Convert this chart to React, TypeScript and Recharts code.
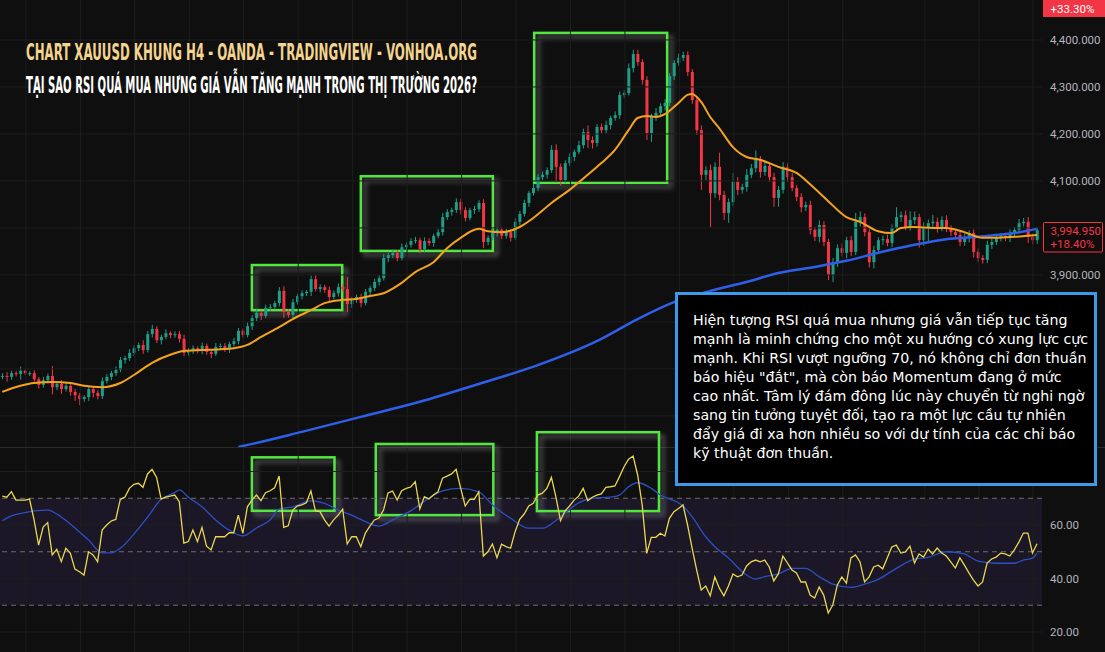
import React from 'react';
import { ComposedChart, Bar, Line, XAxis, YAxis, CartesianGrid, ReferenceLine, ReferenceArea } from 'recharts';

// ---------- DATA ----------
const firstOpen = 3683;
const closes = [
  3685, 3683, 3691, 3689, 3696, 3691, 3691, 3678, 3666, 3676,
  3685, 3661, 3668, 3657, 3664, 3651, 3644, 3636, 3640, 3657,
  3649, 3642, 3674, 3683, 3691, 3698, 3719, 3723, 3734, 3744,
  3751, 3740, 3774, 3785, 3761, 3768, 3776, 3772, 3774, 3764,
  3734, 3740, 3744, 3738, 3749, 3736, 3732, 3747, 3749, 3742,
  3753, 3759, 3781, 3772, 3791, 3808, 3819, 3813, 3830, 3832,
  3840, 3866, 3821, 3815, 3842, 3855, 3861, 3864, 3891, 3870,
  3874, 3868, 3853, 3861, 3874, 3870, 3838, 3847, 3853, 3840,
  3864, 3872, 3885, 3893, 3936, 3942, 3947, 3936, 3959, 3964,
  3972, 3974, 3955, 3972, 3968, 3983, 3991, 4023, 4034, 4038,
  4055, 4038, 4021, 4038, 4040, 4053, 3970, 3979, 3991, 3996,
  3983, 3991, 3979, 4013, 4030, 4053, 4074, 4085, 4108, 4113,
  4123, 4166, 4130, 4102, 4138, 4151, 4162, 4176, 4204, 4187,
  4181, 4215, 4208, 4219, 4234, 4240, 4283, 4287, 4340, 4370,
  4353, 4315, 4202, 4236, 4245, 4259, 4266, 4323, 4351, 4362,
  4368, 4332, 4272, 4208, 4113, 4123, 4074, 4130, 4070, 4032,
  4055, 4098, 4081, 4087, 4113, 4127, 4145, 4119, 4132, 4108,
  4064, 4081, 4130, 4108, 4085, 4066, 4044, 4049, 3996, 3981,
  4006, 3970, 3900, 3927, 3957, 3947, 3974, 3949, 4013, 4023,
  3991, 3927, 3953, 3974, 3976, 3968, 4000, 4023, 4027, 4002,
  4017, 4023, 3974, 4002, 4010, 4013, 4000, 4017, 4000, 3991,
  3985, 3970, 3979, 3989, 3949, 3936, 3932, 3964, 3970, 3979,
  3983, 3979, 3989, 3996, 4010, 4013, 3981, 3974, 3995,
];
const upperWick = [
  6, 8, 5, 4, 9, 3, 4, 6, 5, 7,
  5, 21, 6, 8, 5, 4, 6, 5, 4, 7,
  6, 5, 8, 6, 5, 7, 6, 5, 8, 6,
  5, 10, 7, 9, 6, 5, 8, 4, 6, 7,
  9, 5, 6, 4, 7, 5, 6, 8, 5, 6,
  5, 7, 6, 5, 8, 6, 9, 5, 7, 6,
  5, 8, 10, 6, 7, 5, 6, 4, 8, 9,
  6, 5, 7, 6, 8, 6, 25, 6, 5, 7,
  6, 5, 7, 6, 9, 5, 7, 6, 8, 5,
  6, 7, 5, 8, 6, 5, 7, 9, 6, 5,
  8, 7, 6, 5, 7, 6, 8, 5, 7, 6,
  5, 7, 6, 8, 6, 7, 5, 9, 6, 7,
  6, 10, 12, 7, 6, 8, 5, 9, 7, 14,
  8, 6, 7, 9, 5, 8, 7, 6, 10, 9,
  9, 6, 8, 7, 10, 6, 8, 7, 6, 9,
  7, 8, 6, 9, 10, 8, 12, 10, 30, 9,
  8, 19, 10, 7, 12, 9, 20, 8, 10, 7,
  9, 8, 10, 7, 9, 6, 8, 7, 9, 6,
  10, 8, 7, 9, 8, 10, 7, 9, 19, 12,
  8, 7, 9, 6, 8, 10, 7, 21, 8, 10,
  18, 12, 7, 10, 8, 15, 9, 8, 10, 6,
  7, 8, 9, 6, 8, 7, 6, 9, 7, 8,
  6, 7, 8, 6, 9, 8, 10, 7, 6,
];
const lowerWick = [
  5, 10, 6, 5, 12, 4, 6, 5, 8, 6,
  7, 15, 6, 10, 5, 8, 12, 13, 6, 8,
  10, 7, 6, 5, 7, 6, 5, 8, 6, 7,
  6, 8, 5, 7, 6, 9, 5, 7, 6, 8,
  7, 6, 8, 5, 7, 6, 9, 5, 7, 6,
  8, 5, 7, 6, 5, 8, 6, 9, 5, 7,
  6, 7, 13, 6, 8, 5, 7, 6, 9, 5,
  7, 6, 8, 5, 7, 6, 17, 8, 6, 9,
  5, 7, 6, 8, 5, 9, 6, 7, 5, 8,
  6, 5, 9, 7, 6, 8, 5, 7, 6, 8,
  6, 9, 7, 5, 8, 6, 13, 7, 5, 9,
  7, 6, 8, 5, 7, 6, 8, 5, 7, 6,
  8, 6, 34, 12, 7, 6, 9, 5, 7, 17,
  12, 8, 6, 7, 9, 6, 8, 7, 5, 9,
  8, 10, 15, 19, 8, 6, 9, 7, 8, 6,
  7, 9, 8, 10, 32, 12, 72, 10, 11, 15,
  21, 9, 11, 8, 10, 7, 9, 12, 8, 10,
  19, 19, 8, 10, 7, 9, 11, 8, 10, 9,
  12, 9, 11, 15, 10, 8, 12, 9, 7, 10,
  9, 11, 13, 8, 10, 7, 9, 8, 10, 7,
  8, 9, 16, 12, 30, 8, 10, 7, 9, 8,
  7, 9, 8, 10, 12, 9, 8, 7, 9, 6,
  8, 7, 9, 6, 8, 7, 13, 9, 8,
];
// [candle index, value]
const ema20Points: [number, number][] = [
  [0, 3651], [4, 3664], [7, 3670], [11, 3672], [15, 3670], [18, 3664], [22, 3661], [26, 3670],
  [29, 3687], [33, 3713], [37, 3730], [40, 3738], [44, 3740], [48, 3742], [51, 3744], [54, 3751],
  [57, 3768], [61, 3789], [64, 3806], [68, 3825], [71, 3840], [75, 3847], [78, 3849], [81, 3855],
  [84, 3861], [88, 3883], [91, 3906], [95, 3927], [98, 3957], [101, 3979], [105, 3998], [107, 3993],
  [110, 3991], [114, 4002], [117, 4021], [121, 4053], [125, 4081], [129, 4113], [132, 4138],
  [135, 4166], [138, 4208], [140, 4234], [142, 4238], [144, 4236], [146, 4242], [149, 4266],
  [151, 4283], [152, 4285], [154, 4268], [156, 4236], [158, 4212], [161, 4172], [164, 4151],
  [167, 4145], [171, 4130], [175, 4117], [178, 4093], [182, 4057], [186, 4023], [189, 4013],
  [193, 3993], [196, 3989], [198, 4000], [201, 4002], [205, 4000], [208, 4000], [212, 3991],
  [216, 3979], [219, 3979], [223, 3981], [228, 3985],
];
const ema200Points: [number, number][] = [
  [52, 3534], [53, 3536], [66, 3566], [79, 3598], [92, 3630], [105, 3668], [118, 3708],
  [131, 3759], [140, 3806], [148, 3842], [156, 3866], [164, 3885], [171, 3904], [179, 3917],
  [186, 3930], [193, 3947], [201, 3964], [208, 3976], [215, 3981], [223, 3989], [228, 3998],
];
const rsiValues = [
  70.8, 70.4, 72.5, 69.3, 69.3, 69.3, 69.7, 61.9, 52.5, 59.2,
  60.9, 48.8, 50.9, 46.3, 51.3, 49.4, 43.5, 42.5, 41.3, 50,
  48.8, 46.3, 58.1, 60, 61.5, 62.1, 69.6, 70.4, 73.7, 75.2,
  75.6, 74.1, 79.1, 80.8, 77.8, 69.7, 70.4, 70.8, 71.2, 68.7,
  53.2, 53.8, 58.1, 53.8, 59.1, 52.1, 50.7, 55.6, 55.6, 55.6,
  57.1, 57.1, 63.7, 56.9, 66.8, 69.3, 71.2, 69.1, 72.1, 72.8,
  73.9, 78.3, 59.1, 59.7, 65.6, 67.1, 67.5, 68.3, 72.7, 65.3,
  65, 61.9, 59.6, 61.9, 63.7, 65.9, 52.9, 55.6, 55.6, 51.9,
  57, 59.6, 61.9, 62.6, 65.6, 72, 72.7, 69.3, 72.8, 73.7,
  74.2, 76.2, 66, 70.6, 69.7, 71.2, 72.4, 77.5, 78.3, 79.1,
  80.8, 73.8, 67.1, 69.6, 69.6, 72.4, 48.4, 50, 52.9, 47.8,
  52.8, 51.9, 51.3, 57.5, 62.1, 64.1, 67.1, 68.1, 71.2, 71.9,
  73.7, 77.8, 70.4, 61.6, 65.3, 67.1, 69.3, 70.8, 73.7, 69.1,
  70.4, 71.2, 71.6, 74.1, 74.3, 74.6, 78.1, 81.8, 84.6, 85.8,
  78.7, 67.5, 49.4, 55.4, 55.4, 56.9, 55.9, 62.5, 65, 66.2,
  67.5, 60, 51.4, 43.2, 35.7, 37.2, 33.5, 40.6, 36.4, 33.5,
  37.2, 41.7, 40.6, 41.3, 44.7, 46.2, 46.9, 46.2, 46.9, 44.3,
  39.1, 41.7, 48.4, 45.8, 43.2, 42.1, 38.7, 38.7, 33.8, 32.7,
  36.8, 33.8, 27.1, 30.1, 37.6, 40.6, 38.3, 47.7, 48.8, 46.2,
  38.7, 40.6, 44.3, 45, 43.6, 47.7, 51.8, 52.5, 49.5, 49.9,
  52.1, 45.8, 49.2, 48, 51, 49.2, 51.4, 49.5, 48.4, 46.2,
  43.9, 47.7, 45, 42.1, 39.4, 37.2, 38.7, 45.8, 47.3, 48,
  49.5, 49.2, 48.4, 50.7, 53.6, 57, 57, 49.5, 53,
];
const rsiMaPoints: [number, number][] = [
  [0, 61.6], [2, 63.4], [5, 64.6], [7, 65.3], [10, 65.6], [13, 63], [16, 58.9], [19, 54.4],
  [22, 49.6], [24, 49.6], [26, 51.3], [29, 56.6], [32, 62.9], [35, 69.6], [38, 72.1], [39, 73.1],
  [41, 70.4], [44, 66.8], [47, 61.9], [50, 58.1], [53, 55.9], [56, 58.9], [59, 61.9], [61, 65.9],
  [64, 66.8], [68, 69], [71, 68.1], [74, 65.6], [77, 63.7], [79, 62.1], [83, 59.6], [86, 61.9],
  [90, 65.3], [94, 70], [97, 72.8], [101, 73.7], [105, 72.4], [108, 67.5], [112, 62.5],
  [116, 58.8], [119, 58.8], [123, 63.1], [127, 68.3], [130, 70], [134, 70.4], [136, 71.2],
  [138, 74.3], [140, 75.8], [143, 73.7], [145, 71.2], [149, 68.3], [150, 67.1], [152, 63.1],
  [155, 55.6], [157, 51.9], [160, 47.7], [164, 41.3], [166, 39.8], [168, 40.7], [171, 41.7],
  [174, 43.8], [177, 43.8], [180, 40.7], [183, 37.9], [187, 36.7], [190, 37.9], [193, 39.7],
  [197, 43.8], [201, 47.2], [204, 47.9], [208, 50], [212, 49.2], [215, 46.5], [219, 45.7],
  [223, 45.7], [225, 46.9], [227, 47.6], [228, 49.5],
];
// grid levels and the tick labels that stay visible (others sit under the labels / note box)
const priceGridLevels = [3600, 3700, 3800, 3900, 4000, 4100, 4200, 4300, 4400];
const priceTickLabels = [3900, 4100, 4200, 4300, 4400];
const rsiGridLevels = [20, 40, 60, 80];
const rsiTickLabels = [20, 40, 60];
const rsiLevels = [70, 50, 30];
const timeGrid = [5.2, 17.2, 29.2, 41.2, 53.2, 65.2, 77.2, 89.2, 101.2, 113.2, 125.2, 137.2, 149.2, 161.2, 173.2, 185.2, 203.3, 215.2, 227.1];
const priceBoxes = [
  { x1: 55.0, x2: 74.9, y1: 3825, y2: 3921 },
  { x1: 79.0, x2: 108.1, y1: 3951, y2: 4110 },
  { x1: 117.2, x2: 146.5, y1: 4096, y2: 4415 },
];
const rsiBoxes = [
  { x1: 55.0, x2: 73.2, y1: 65.3, y2: 85.3 },
  { x1: 82.3, x2: 108.2, y1: 63.7, y2: 90.3 },
  { x1: 117.8, x2: 144.7, y1: 65.2, y2: 94.7 },
];
const titleLine1 = 'CHART XAUUSD KHUNG H4 - OANDA - TRADINGVIEW - VONHOA.ORG';
const titleLine2 = 'TẠI SAO RSI QUÁ MUA NHƯNG GIÁ VẪN TĂNG MẠNH TRONG THỊ TRƯỜNG 2026?';
const noteLines = [
  'Hiện tượng RSI quá mua nhưng giá vẫn tiếp tục tăng',
  'mạnh là minh chứng cho một xu hướng có xung lực cực',
  'mạnh. Khi RSI vượt ngưỡng 70, nó không chỉ đơn thuần',
  'báo hiệu "đắt", mà còn báo Momentum đang ở mức',
  'cao nhất. Tâm lý đám đông lúc này chuyển từ nghi ngờ',
  'sang tin tưởng tuyệt đối, tạo ra một lực cầu tự nhiên',
  'đẩy giá đi xa hơn nhiều so với dự tính của các chỉ báo',
  'kỹ thuật đơn thuần.',
];
const lastPriceLabel = '3,994.950';
const lastChangeLabel = '+18.40%';
const topChangeLabel = '+33.30%';

// ---------- STYLE CONSTANTS ----------
const BG = '#0f0f0f';
const GRID = '#1e1e1e';
const UP = '#1e9e87';
const DOWN = '#f23645';
const AXIS_TEXT = '#b2b5be';
const BOX_GREEN = '#52e640';
const X_DOMAIN: [number, number] = [-0.507, 229.1];
const PRICE_DOMAIN: [number, number] = [3531.7, 4485];
const RSI_DOMAIN: [number, number] = [12.52, 88.79];

// ---------- TABLES ----------
const ema20Map = new Map<number, number>(ema20Points);
const ema200Map = new Map<number, number>(ema200Points);
const rsiMaMap = new Map<number, number>(rsiMaPoints);

const priceData = closes.map((c, i) => {
  const o = i === 0 ? firstOpen : closes[i - 1];
  const hi = Math.max(o, c) + upperWick[i];
  const lo = Math.min(o, c) - lowerWick[i];
  return {
    i,
    open: o,
    close: c,
    high: hi,
    low: lo,
    range: [lo, hi],
    ema20: ema20Map.has(i) ? ema20Map.get(i) : null,
    ema200: ema200Map.has(i) ? ema200Map.get(i) : null,
  };
});

const rsiData = rsiValues.map((v, i) => ({
  i,
  rsi: v,
  rsiMa: rsiMaMap.has(i) ? rsiMaMap.get(i) : null,
}));

const Candle = (props: any) => {
  const { x, y, width, height, payload } = props;
  if (!payload || x == null || y == null) return null;
  const { open, close, high, low } = payload;
  const top = Math.min(y, y + height);
  const h = Math.abs(height);
  const k = h / Math.max(high - low, 1e-6);
  const bTop = top + (high - Math.max(open, close)) * k;
  const bBot = top + (high - Math.min(open, close)) * k;
  const color = close >= open ? UP : DOWN;
  const cx = x + width / 2;
  return (
    <g>
      <line x1={cx} x2={cx} y1={top} y2={top + h} stroke={color} strokeWidth={1} />
      <rect x={x} y={bTop} width={width} height={Math.max(bBot - bTop, 1)} fill={color} />
    </g>
  );
};

const GlowBox = (props: any) => {
  const { x, y, width, height } = props;
  if (x == null || y == null) return null;
  const top = Math.min(y, y + height);
  return (
    <rect
      x={x}
      y={top}
      width={Math.abs(width)}
      height={Math.abs(height)}
      fill="none"
      stroke={BOX_GREEN}
      strokeWidth={2.5}
      filter="url(#boxShadow)"
    />
  );
};

const fmtPrice = (v: number) =>
  v.toLocaleString('en-US', { minimumFractionDigits: 3, maximumFractionDigits: 3 });
const fmtRsi = (v: number) => v.toFixed(2);

const axisTick = { fill: AXIS_TEXT, fontSize: 11.5, fontFamily: 'Roboto, sans-serif' };

export default function App() {
  return (
    <div
      style={{
        position: 'fixed',
        left: 0,
        top: 0,
        width: 1105,
        height: 652,
        background: BG,
        overflow: 'hidden',
      }}
    >
      <style>{`.rsi-pane .recharts-surface{overflow:visible}`}</style>
      <svg width={0} height={0} style={{ position: 'absolute' }}>
        <defs>
          <filter id="boxShadow" x="-20%" y="-30%" width="140%" height="160%">
            <feDropShadow dx={4} dy={4} stdDeviation={2.5} floodColor="#9c9c9c" floodOpacity={0.6} />
          </filter>
        </defs>
      </svg>

      {/* PRICE PANE */}
      <div style={{ position: 'absolute', left: 0, top: 0 }}>
        <ComposedChart width={1105} height={448} data={priceData} margin={{ top: 0, right: 0, bottom: 0, left: 0 }}>
          {priceGridLevels.map((lv) => (
            <ReferenceLine key={'h' + lv} y={lv} stroke={GRID} ifOverflow="hidden" />
          ))}
          {timeGrid.map((g) => (
            <ReferenceLine key={'g' + g} x={g} stroke={GRID} ifOverflow="hidden" />
          ))}
          <XAxis type="number" dataKey="i" domain={X_DOMAIN} allowDataOverflow hide />
          <YAxis
            orientation="right"
            width={63}
            domain={PRICE_DOMAIN}
            allowDataOverflow
            ticks={priceTickLabels}
            tickFormatter={fmtPrice}
            tick={axisTick}
            tickLine={false}
            axisLine={false}
          />
          <Line dataKey="ema200" stroke="#2f5fe8" strokeWidth={2.5} dot={false} activeDot={false} connectNulls type="monotone" isAnimationActive={false} />
          <Line dataKey="ema20" stroke="#f5a31c" strokeWidth={2} dot={false} activeDot={false} connectNulls type="monotone" isAnimationActive={false} />
          <Bar dataKey="range" barSize={3} shape={(p: any) => <Candle {...p} />} activeBar={false} isAnimationActive={false} />
          {priceBoxes.map((b, k) => (
            <ReferenceArea key={'pb' + k} x1={b.x1} x2={b.x2} y1={b.y1} y2={b.y2} ifOverflow="visible" shape={(p: any) => <GlowBox {...p} />} />
          ))}
        </ComposedChart>
      </div>

      {/* pane separator */}
      <div style={{ position: 'absolute', left: 0, top: 447, width: 1105, height: 1, background: '#2a2a2a' }} />

      {/* RSI PANE */}
      <div className="rsi-pane" style={{ position: 'absolute', left: 0, top: 448 }}>
        <ComposedChart width={1105} height={204} data={rsiData} margin={{ top: 0, right: 0, bottom: 0, left: 0 }}>
          <ReferenceArea y1={30} y2={70} fill="#1b1726" fillOpacity={1} stroke="none" ifOverflow="hidden" />
          {rsiGridLevels.map((lv) => (
            <ReferenceLine key={'rh' + lv} y={lv} stroke={GRID} ifOverflow="hidden" />
          ))}
          {timeGrid.map((g) => (
            <ReferenceLine key={'rg' + g} x={g} stroke={GRID} ifOverflow="hidden" />
          ))}
          {rsiLevels.map((lv) => (
            <ReferenceLine key={'lv' + lv} y={lv} stroke="#6e6e6e" strokeDasharray="5 4" />
          ))}
          <XAxis type="number" dataKey="i" domain={X_DOMAIN} allowDataOverflow hide />
          <YAxis
            orientation="right"
            width={63}
            domain={RSI_DOMAIN}
            allowDataOverflow
            ticks={rsiTickLabels}
            tickFormatter={fmtRsi}
            tick={axisTick}
            tickLine={false}
            axisLine={false}
          />
          <Line dataKey="rsiMa" stroke="#2d4fc4" strokeWidth={1.3} dot={false} activeDot={false} connectNulls type="monotone" isAnimationActive={false} />
          <Line dataKey="rsi" stroke="#e8d74f" strokeWidth={1.3} dot={false} activeDot={false} type="linear" isAnimationActive={false} />
          {rsiBoxes.map((b, k) => (
            <ReferenceArea key={'rb' + k} x1={b.x1} x2={b.x2} y1={b.y1} y2={b.y2} ifOverflow="visible" shape={(p: any) => <GlowBox {...p} />} />
          ))}
        </ComposedChart>
      </div>

      {/* OVERLAY: titles and price labels */}
      <svg width={1105} height={652} style={{ position: 'absolute', left: 0, top: 0, pointerEvents: 'none' }}>
        <text
          x={26}
          y={59.5}
          textLength={451}
          lengthAdjust="spacingAndGlyphs"
          fontSize={22.5}
          fontWeight="bold"
          fill="#f4d48f"
          fontFamily="'Liberation Sans Narrow', 'DejaVu Sans Condensed', 'DejaVu Sans', sans-serif"
        >
          {titleLine1}
        </text>
        <text
          x={26}
          y={93}
          textLength={451}
          lengthAdjust="spacingAndGlyphs"
          fontSize={22.5}
          fontWeight="bold"
          fill="#ffffff"
          fontFamily="'Liberation Sans Narrow', 'DejaVu Sans Condensed', 'DejaVu Sans', sans-serif"
        >
          {titleLine2}
        </text>

        <rect x={1043} y={-4} width={62} height={21} fill="#f23645" />
        <text x={1050.5} y={13} fontSize={11.5} fill="#ffffff" fontFamily="Roboto, sans-serif">
          {topChangeLabel}
        </text>

        <rect x={1043.5} y={222.5} width={59} height={29.5} fill="#110d0d" stroke="#f23645" strokeWidth={1} rx={1} />
        <text x={1050.5} y={235} fontSize={11.5} fill="#f23645" fontFamily="Roboto, sans-serif">
          {lastPriceLabel}
        </text>
        <text x={1050.5} y={248} fontSize={11.5} fill="#f23645" fontFamily="Roboto, sans-serif">
          {lastChangeLabel}
        </text>
      </svg>

      {/* NOTE BOX */}
      <div
        style={{
          position: 'absolute',
          left: 675,
          top: 291.5,
          width: 422,
          height: 194.5,
          boxSizing: 'border-box',
          border: '3px solid #3b9be9',
          background: '#000000',
          padding: '16px 0 0 15px',
          fontFamily: "'DejaVu Sans', sans-serif",
          fontSize: 14.2,
          lineHeight: '19px',
          color: '#ffffff',
        }}
      >
        {noteLines.map((l, k) => (
          <div key={k} style={{ whiteSpace: 'nowrap' }}>
            {l}
          </div>
        ))}
      </div>
    </div>
  );
}
